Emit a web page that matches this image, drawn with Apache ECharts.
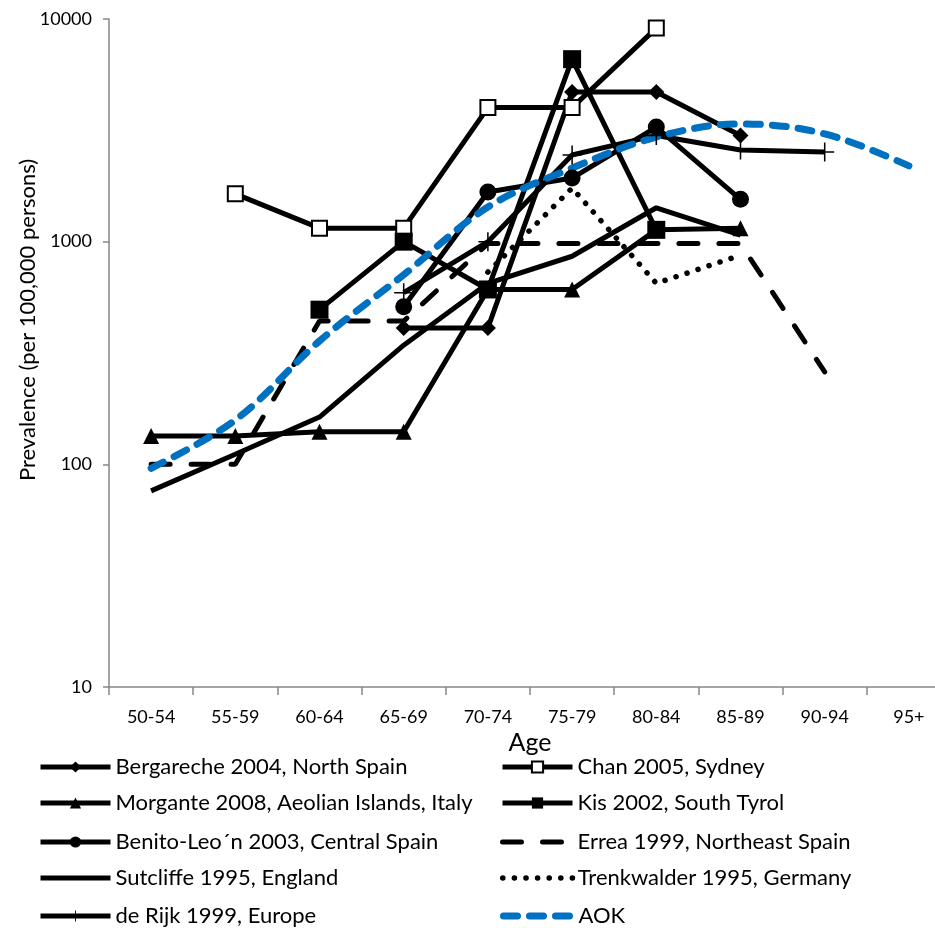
<!DOCTYPE html>
<html>
<head>
<meta charset="utf-8">
<script src="https://cdn.jsdelivr.net/npm/echarts@6/dist/echarts.min.js"></script>
<style>
html,body{margin:0;padding:0;background:#fff;}
#chart{width:935px;height:928px;}
</style>
</head>
<body>
<div id="chart"></div>
<script>
var categories = ['50-54','55-59','60-64','65-69','70-74','75-79','80-84','85-89','90-94','95+'];
var yTicks = [10, 100, 1000, 10000];
var bergareche = [null,null,null,410,410,4700,4700,3000,null,null];
var chan = [null,1640,1150,1150,4000,4000,9100,null,null,null];
var morgante = [134,134,140,140,610,610,1130,1150,null,null];
var kis = [null,null,495,1000,610,6600,1130,null,null,null];
var benito = [null,null,null,510,1670,1930,3270,1550,null,null];
var errea = [100,100,440,440,980,980,980,980,260,null];
var sutcliffe = [76,111,163,343,650,860,1420,1070,null,null];
var trenkwalder = [null,null,null,null,730,1740,650,870,null,null];
var derijk = [null,null,null,590,1000,2450,3000,2580,2530,null];
var aok = [96,158,358,710,1430,2140,2950,3380,3050,2190];

var names = [
  'Bergareche 2004, North Spain',
  'Chan 2005, Sydney',
  'Morgante 2008, Aeolian Islands, Italy',
  'Kis 2002, South Tyrol',
  'Benito-Leo\u00B4n 2003, Central Spain',
  'Errea 1999, Northeast Spain',
  'Sutcliffe 1995, England',
  'Trenkwalder 1995, Germany',
  'de Rijk 1999, Europe',
  'AOK'
];
var noSymbolInLegend = [false, false, false, false, false, true, true, true, false, true];

var FONT = 'Lato';
var plusPath = 'path://M9.2,0H10.8V9.2H20V10.8H10.8V20H9.2V10.8H0V9.2H9.2Z';

function blackLine(name, data, symbol, size, extra) {
  var s = {
    name: name, type: 'line', data: data,
    symbol: symbol, symbolSize: size, showSymbol: true,
    connectNulls: false,
    lineStyle: {color: '#000', width: 5},
    itemStyle: {color: '#000'},
    emphasis: {disabled: true},
    animation: false
  };
  if (extra) { for (var k in extra) s[k] = extra[k]; }
  return s;
}

var series = [
  blackLine(names[0], bergareche, 'diamond', 16),
  blackLine(names[1], chan, 'rect', 15, {itemStyle: {color: '#fff', borderColor: '#000', borderWidth: 2}}),
  blackLine(names[2], morgante, 'triangle', 16),
  blackLine(names[3], kis, 'rect', 18),
  blackLine(names[4], benito, 'circle', 17),
  blackLine(names[5], errea, 'none', 0, {lineStyle: {color: '#000', width: 5, type: [19, 21], cap: 'round'}}),
  blackLine(names[6], sutcliffe, 'none', 0),
  blackLine(names[7], trenkwalder, 'none', 0, {lineStyle: {color: '#000', width: 5.5, type: [0.1, 11.5], cap: 'round'}}),
  blackLine(names[8], derijk, plusPath, 19),
  {
    name: names[9], type: 'line', data: aok, symbol: 'none', showSymbol: false,
    smooth: 0.35,
    lineStyle: {color: '#0070C0', width: 7, type: [14, 12], cap: 'round'},
    itemStyle: {color: '#0070C0'},
    emphasis: {disabled: true},
    animation: false
  }
];

// legend slot: column left positions and row center positions
var colLeft = [38, 500];
var rowCenter = [767, 803, 842, 878, 916];
var legends = names.map(function (n, i) {
  var item = noSymbolInLegend[i] ? {name: n, itemStyle: {opacity: 0}} : {name: n};
  return {
    orient: 'horizontal',
    itemWidth: 70, itemHeight: 14, itemGap: 0,
    left: colLeft[i % 2],
    top: rowCenter[Math.floor(i / 2)] - 11,
    padding: 0,
    selectedMode: false,
    textStyle: {fontFamily: FONT, fontSize: 22, color: '#000', lineHeight: 22},
    lineStyle: {width: 'inherit'},
    data: [item]
  };
});

var chart = echarts.init(document.getElementById('chart'), null, {renderer: 'canvas'});
chart.setOption({
  animation: false,
  backgroundColor: '#fff',
  grid: {left: 109, width: 842, top: 19, height: 668, containLabel: false, outerBoundsMode: 'none'},
  legend: legends,
  xAxis: {
    type: 'category', data: categories, boundaryGap: true,
    name: 'Age', nameLocation: 'middle', nameGap: 40,
    nameTextStyle: {fontFamily: FONT, fontSize: 25, color: '#000'},
    axisLine: {lineStyle: {color: '#868686', width: 1.5}},
    axisTick: {show: true, length: 8, alignWithLabel: false, lineStyle: {color: '#868686', width: 1.5}},
    axisLabel: {fontFamily: FONT, fontSize: 18, color: '#000', margin: 21, interval: 0},
    splitLine: {show: false}
  },
  yAxis: {
    type: 'log', logBase: 10, min: yTicks[0], max: yTicks[yTicks.length - 1],
    axisLine: {show: true, lineStyle: {color: '#868686', width: 1.5}},
    axisTick: {show: true, length: 6, lineStyle: {color: '#868686', width: 1.5}},
    axisLabel: {fontFamily: FONT, fontSize: 18, color: '#000', margin: 17,
      formatter: function (v) { return String(Math.round(v)); }},
    splitLine: {show: false},
    minorTick: {show: false}
  },
  graphic: [{
    type: 'text', x: 28, y: 320, rotation: Math.PI / 2,
    style: {text: 'Prevalence (per 100,000 persons)', fontFamily: FONT, fontSize: 22, fill: '#000',
      align: 'center', verticalAlign: 'middle'}
  }],
  series: series
});
</script>
</body>
</html>
